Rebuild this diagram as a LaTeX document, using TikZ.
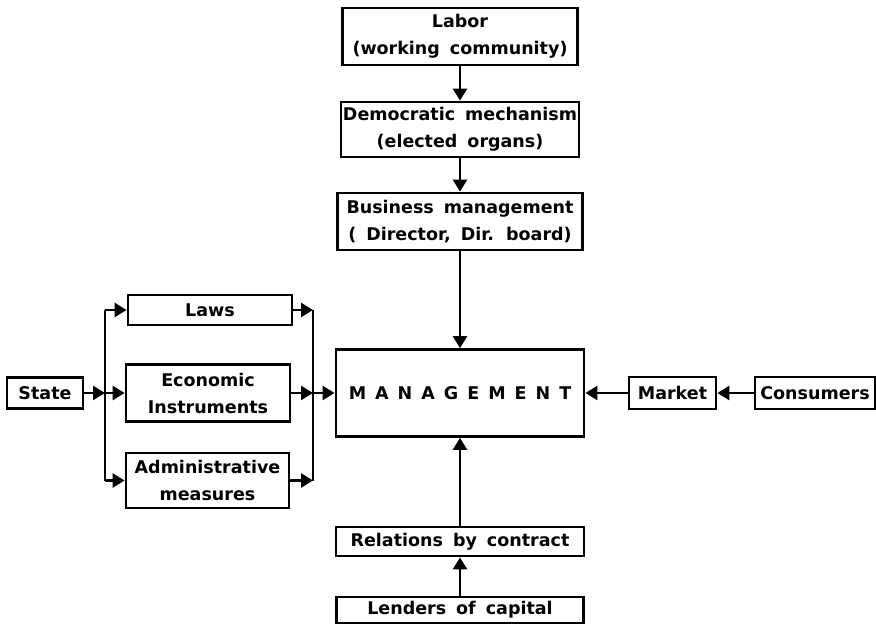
\documentclass[tikz,border=0pt]{standalone}
\usepackage{fontspec}
\setsansfont{DejaVu Sans}
\usetikzlibrary{arrows.meta}

\tikzset{
  box/.style={draw, line width=2.8pt, align=center, inner sep=0pt,
    font={\sffamily\bfseries\fontsize{17.5}{27}\selectfont\spaceskip=10pt\relax}},
  link/.style={line width=2.6pt, -{Triangle[length=12pt,width=14pt]}},
  wire/.style={line width=2.6pt},
}

\begin{document}
\begin{tikzpicture}[x=1pt,y=-1pt]
        \useasboundingbox (0,0) rectangle (876,627);
        % central column
        \node (lab) [box, minimum width=235pt, minimum height=57pt] at (460,36.5) {Labor\\(working community)};
        \node (dem) [box, minimum width=238pt, minimum height=55pt] at (460,129.5) {Democratic mechanism\\(elected organs)};
        \node (bus) [box, minimum width=245pt, minimum height=57pt] at (460,221.5) {Business management\\( Director, Dir. board)};
        \node (man) [box, minimum width=248pt, minimum height=87pt] at (460,393) {M\hspace{9pt}A\hspace{9pt}N\hspace{9pt}A\hspace{9pt}G\hspace{9pt}E\hspace{9pt}M\hspace{9pt}E\hspace{9pt}N\hspace{9pt}T};
        \node (rel) [box, minimum width=248pt, minimum height=29pt] at (460,541.5) {Relations by contract};
        \node (len) [box, minimum width=247pt, minimum height=26pt] at (460,610) {Lenders of capital};
        % state side
        \node (st) [box, minimum width=76pt, minimum height=31pt] at (45,393) {State};
        \node (laws) [box, minimum width=164pt, minimum height=30pt] at (210,310) {Laws};
        \node (eco) [box, minimum width=164pt, minimum height=57pt] at (208,393) {Economic\\Instruments};
        \node (adm) [box, minimum width=163pt, minimum height=55pt] at (207.5,480.5) {Administrative\\measures};
        % market side
        \node (mkt) [box, minimum width=87pt, minimum height=32pt] at (672.5,393) {Market};
        \node (con) [box, minimum width=120pt, minimum height=32pt] at (815,393) {Consumers};
        % bus points
        \coordinate (lt) at (105,310);
        \coordinate (lm) at (105,393);
        \coordinate (lb) at (105,480.5);
        \coordinate (rt) at (313,310);
        \coordinate (rm) at (313,393);
        \coordinate (rb) at (313,480.5);

        \draw (lab) edge [link] (dem);
        \draw (dem) edge [link] (bus);
        \draw (bus) edge [link] (man);
        \draw (rel) edge [link] (man);
        \draw (len) edge [link] (rel);
        \draw (con) edge [link] (mkt);
        \draw (mkt) edge [link] (man);
        \draw (st) edge [link] (lm);
        \draw [wire] (lt) -- (lb);
        \draw (lt) edge [link] (laws);
        \draw (lm) edge [link] (eco);
        \draw (lb) edge [link] (adm);
        \draw [wire] (rt) -- (rb);
        \draw (laws) edge [link] (rt);
        \draw (eco) edge [link] (rm);
        \draw (adm) edge [link] (rb);
        \draw (rm) edge [link] (man);
\end{tikzpicture}
\end{document}
